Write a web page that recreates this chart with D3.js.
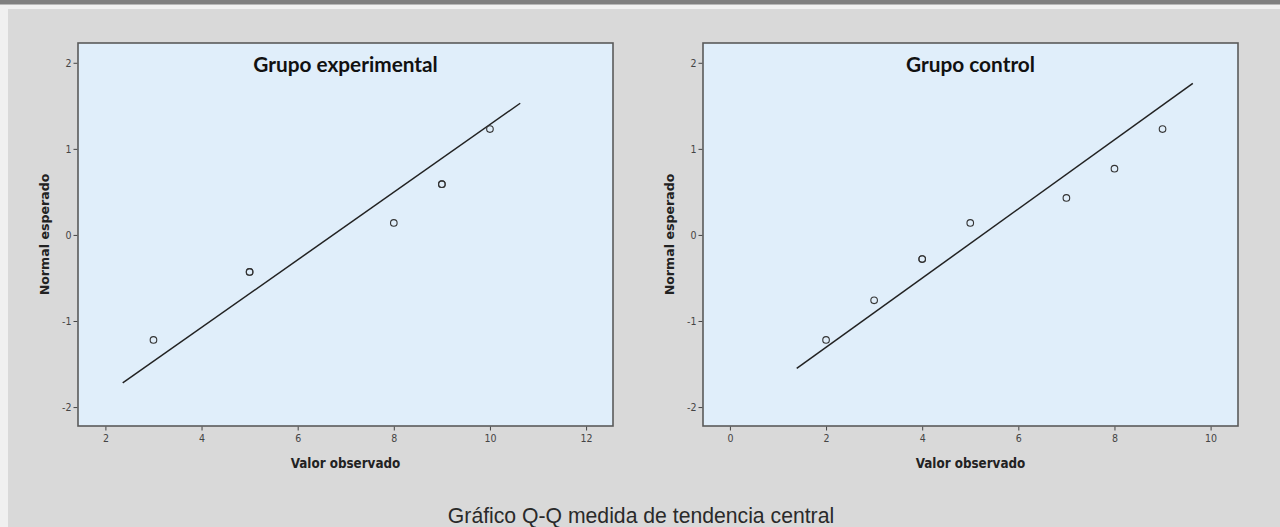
<!DOCTYPE html>
<html>
<head>
<meta charset="utf-8">
<script src="https://cdn.jsdelivr.net/npm/d3@7"></script>
<style>
  body { margin: 0; background: #f0f0f0; }
  .tick text { font-family: "Liberation Sans Narrow", "DejaVu Sans Condensed", sans-serif; font-size: 10.5px; fill: #444; }
  .tick line { stroke: #444; }
</style>
</head>
<body>
<div id="chart"></div>
<script>
// data
var yTicks = [-2, -1, 0, 1, 2];

var expXTicks = [2, 4, 6, 8, 10, 12];
var expX = [3, 5, 5, 8, 9, 9, 10];
var expY = [-1.22, -0.43, -0.43, 0.14, 0.59, 0.59, 1.23];
var expLineX = [2.36, 10.63];
var expLineY = [-1.72, 1.53];

var ctlXTicks = [0, 2, 4, 6, 8, 10];
var ctlX = [2, 3, 4, 4, 5, 7, 8, 9];
var ctlY = [-1.22, -0.76, -0.28, -0.28, 0.14, 0.43, 0.77, 1.23];
var ctlLineX = [1.39, 9.63];
var ctlLineY = [-1.55, 1.76];

var svgWidth = 1280, svgHeight = 527;

var svg = d3.select("#chart").append("svg")
    .attr("width", svgWidth)
    .attr("height", svgHeight);

// background bits
svg.append("rect").attr("x", 0).attr("y", 0).attr("width", svgWidth).attr("height", 4.5).attr("fill", "#7f7f7f");
svg.append("rect").attr("x", 8).attr("y", 9).attr("width", svgWidth - 8).attr("height", svgHeight - 9).attr("fill", "#d9d9d9");

// one q-q panel
function drawPanel(opt) {
    var left = opt.left, right = opt.right, top = 43, bottom = 426;

    var x = d3.scaleLinear().domain(opt.xDomain).range([left, right]);
    var y = d3.scaleLinear().domain([-2.22, 2.23]).range([bottom, top]);

    var g = svg.append("g");

    g.append("rect")
        .attr("x", left).attr("y", top)
        .attr("width", right - left).attr("height", bottom - top)
        .attr("fill", "#e0eefa");

    var yAxis = d3.axisLeft(y).tickValues(yTicks).tickSize(4).tickSizeOuter(0).tickPadding(2)
        .tickFormat(d => String(d));
    g.append("g").attr("transform", `translate(${left - 0.5},0)`).call(yAxis)
        .call(a => a.select(".domain").remove());

    var xAxis = d3.axisBottom(x).tickValues(opt.xTicks).tickSize(4).tickSizeOuter(0).tickPadding(4)
        .tickFormat(d => String(d));
    g.append("g").attr("transform", `translate(0,${bottom + 0.5})`).call(xAxis)
        .call(a => a.select(".domain").remove());

    // frame
    g.append("rect")
        .attr("x", left).attr("y", top)
        .attr("width", right - left).attr("height", bottom - top)
        .attr("fill", "none").attr("stroke", "#5a5a5a").attr("stroke-width", 1.6);

    // reference line
    var line = d3.line().x(d => x(d[0])).y(d => y(d[1]));
    g.append("path")
        .datum(d3.zip(opt.lineX, opt.lineY))
        .attr("d", line)
        .attr("fill", "none").attr("stroke", "#222").attr("stroke-width", 1.5);

    // points (ties drawn twice, like the original)
    g.selectAll(null)
        .data(d3.zip(opt.px, opt.py))
        .enter().append("circle")
        .attr("cx", d => x(d[0]))
        .attr("cy", d => y(d[1]))
        .attr("r", 3.3)
        .attr("fill", "none")
        .attr("stroke", "#333")
        .attr("stroke-width", 1.1);

    // title
    g.append("text")
        .attr("x", (left + right) / 2).attr("y", 71.5)
        .attr("text-anchor", "middle")
        .attr("font-family", "Lato, 'Open Sans', sans-serif")
        .attr("font-weight", "bold")
        .attr("font-size", "20.8px")
        .attr("fill", "#111")
        .text(opt.title);

    // axis labels
    g.append("text")
        .attr("transform", `translate(${left - 29},${(top + bottom) / 2}) rotate(-90)`)
        .attr("text-anchor", "middle")
        .attr("font-family", "'DejaVu Sans', sans-serif")
        .attr("font-weight", "bold")
        .attr("font-size", "12.6px")
        .attr("fill", "#222")
        .text("Normal esperado");

    g.append("text")
        .attr("x", (left + right) / 2).attr("y", 468)
        .attr("text-anchor", "middle")
        .attr("font-family", "'Liberation Sans Narrow', 'DejaVu Sans Condensed', sans-serif")
        .attr("font-weight", "bold")
        .attr("font-size", "13.3px")
        .attr("fill", "#222")
        .text("Valor observado");
}

drawPanel({
    left: 78, right: 613,
    xDomain: [1.43, 12.56], xTicks: expXTicks,
    px: expX, py: expY, lineX: expLineX, lineY: expLineY,
    title: "Grupo experimental"
});

drawPanel({
    left: 703, right: 1238,
    xDomain: [-0.56, 10.57], xTicks: ctlXTicks,
    px: ctlX, py: ctlY, lineX: ctlLineX, lineY: ctlLineY,
    title: "Grupo control"
});

// caption
svg.append("text")
    .attr("x", 641).attr("y", 523)
    .attr("text-anchor", "middle")
    .attr("font-family", "'Liberation Sans', Arial, sans-serif")
    .attr("font-size", "21.2px")
    .attr("fill", "#2a2a2a")
    .text("Gráfico Q-Q medida de tendencia central");
</script>
</body>
</html>
